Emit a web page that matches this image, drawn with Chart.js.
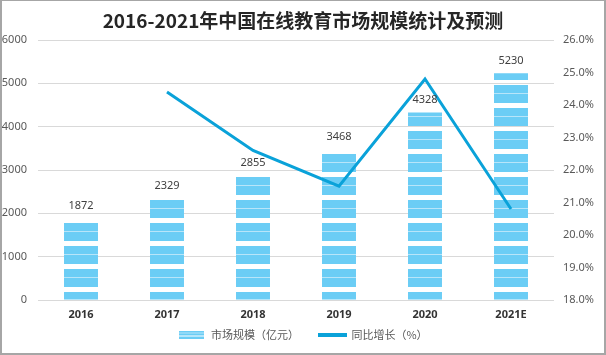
<!DOCTYPE html>
<html>
<head>
<meta charset="utf-8">
<script src="https://cdn.jsdelivr.net/npm/chart.js@4/dist/chart.umd.min.js"></script>
<style>
  html, body { margin: 0; padding: 0; background: #fff; }
  #wrap { position: relative; width: 606px; height: 355px; }
  #frame { position: absolute; left: 0; top: 0; width: 606px; height: 355px; box-sizing: border-box;
           border: 2px solid #a6a6a6; border-top-width: 1px; pointer-events: none; }
</style>
</head>
<body>
<div id="wrap">
  <canvas id="c" width="606" height="355"></canvas>
  <div id="frame"></div>
</div>
<script>
const titleText = '2016-2021年中国在线教育市场规模统计及预测';
const categories = ['2016', '2017', '2018', '2019', '2020', '2021E'];
const marketSize = [1872, 2329, 2855, 3468, 4328, 5230];
const growthRate = [null, 24.4, 22.6, 21.5, 24.8, 20.8];
const leftTicks = [0, 1000, 2000, 3000, 4000, 5000, 6000];
const rightTicks = [18, 19, 20, 21, 22, 23, 24, 25, 26];
const barName = '市场规模（亿元）';
const lineName = '同比增长（%）';

const BAR_BLUE = '#6BCDF5';
const BAR_LIGHT = '#B8E5F9';
const LINE_BLUE = '#0AA2D9';

// striped bar fill (anchored to canvas origin)
function makeBarPattern(ctx) {
  const t = document.createElement('canvas');
  t.width = 4; t.height = 23;
  const g = t.getContext('2d');
  g.fillStyle = BAR_BLUE;
  g.fillRect(0, 0, 4, 11);
  g.fillRect(0, 16, 4, 7);
  g.fillStyle = BAR_LIGHT;
  g.fillRect(0, 1, 4, 1);
  return ctx.createPattern(t, 'repeat');
}
function makeBarSwatch() {
  const t = document.createElement('canvas');
  t.width = 25; t.height = 8;
  const g = t.getContext('2d');
  g.fillStyle = BAR_BLUE; g.fillRect(0, 0, 25, 8);
  g.fillStyle = BAR_LIGHT; g.fillRect(0, 2, 25, 1);
  g.fillStyle = '#ffffff'; g.fillRect(0, 5, 25, 1);
  return t;
}
function makeLineSwatch() {
  const t = document.createElement('canvas');
  t.width = 29; t.height = 4;
  const g = t.getContext('2d');
  g.fillStyle = LINE_BLUE; g.fillRect(0, 0, 29, 4);
  return t;
}

const ctx = document.getElementById('c').getContext('2d');
const barPattern = makeBarPattern(ctx);
const barSwatch = makeBarSwatch();
const lineSwatch = makeLineSwatch();

const labelPlugin = {
  id: 'barLabels',
  afterDatasetsDraw(chart) {
    const meta = chart.getDatasetMeta(0);
    const c = chart.ctx;
    c.save();
    c.font = '11px "Noto Sans", sans-serif';
    c.fillStyle = '#404040';
    c.textAlign = 'center';
    c.textBaseline = 'middle';
    meta.data.forEach((el, i) => {
      c.fillText(String(marketSize[i]), el.x, el.y - 13);
    });
    c.restore();
  }
};

// move the legend row up after layout (legend padding is large for horizontal spacing)
const legendShift = {
  id: 'legendShift',
  afterLayout(chart) {
    if (chart.legend) chart.legend.top = 309;
  }
};

new Chart(ctx, {
  type: 'bar',
  data: {
    labels: categories,
    datasets: [
      {
        type: 'bar',
        label: barName,
        data: marketSize,
        backgroundColor: barPattern,
        borderWidth: 0,
        yAxisID: 'y',
        barPercentage: 0.395,
        categoryPercentage: 1,
        order: 1,
        pointStyle: barSwatch
      },
      {
        type: 'line',
        label: lineName,
        data: growthRate,
        borderColor: LINE_BLUE,
        backgroundColor: LINE_BLUE,
        borderWidth: 3,
        pointRadius: 0,
        tension: 0,
        yAxisID: 'y1',
        order: 0,
        pointStyle: lineSwatch
      }
    ]
  },
  options: {
    responsive: false,
    animation: false,
    devicePixelRatio: 1,
    layout: { padding: { left: 0, right: 0, top: 0, bottom: 0 } },
    plugins: {
      tooltip: { enabled: false },
      title: {
        display: true,
        text: titleText,
        color: '#262626',
        font: { family: '"Noto Sans CJK SC", sans-serif', size: 19, weight: 'bold', lineHeight: 1.2 },
        padding: { top: 9, bottom: 8.2 }
      },
      legend: {
        display: true,
        position: 'bottom',
        maxHeight: 33,
        labels: {
          usePointStyle: true,
          pointStyleWidth: 27,
          padding: 20,
          color: '#595959',
          font: { family: '"Noto Sans CJK SC", sans-serif', size: 11 },
          sort: (a, b) => a.datasetIndex - b.datasetIndex
        }
      }
    },
    scales: {
      x: {
        grid: { display: false, drawTicks: false },
        border: { display: false },
        ticks: {
          color: '#333333',
          padding: 8,
          font: { family: '"Noto Sans", sans-serif', size: 11, weight: 'bold' }
        },
        afterFit(s) { s.height = 22; }
      },
      y: {
        position: 'left',
        min: 0, max: 6000,
        afterBuildTicks(s) { s.ticks = leftTicks.map(v => ({ value: v })); },
        grid: { color: '#d9d9d9', lineWidth: 1, drawTicks: false },
        border: { display: false },
        ticks: {
          color: '#595959',
          padding: 11,
          font: { family: '"Noto Sans", sans-serif', size: 11 },
          callback: v => String(v)
        },
        afterFit(s) { s.width = 38; }
      },
      y1: {
        position: 'right',
        min: 18, max: 26,
        afterBuildTicks(s) { s.ticks = rightTicks.map(v => ({ value: v })); },
        grid: { display: false, drawTicks: false },
        border: { display: false },
        ticks: {
          color: '#595959',
          padding: 9,
          font: { family: '"Noto Sans", sans-serif', size: 11 },
          callback: v => Number(v).toFixed(1) + '%'
        },
        afterFit(s) { s.width = 52; }
      }
    }
  },
  plugins: [labelPlugin, legendShift]
});
</script>
</body>
</html>
